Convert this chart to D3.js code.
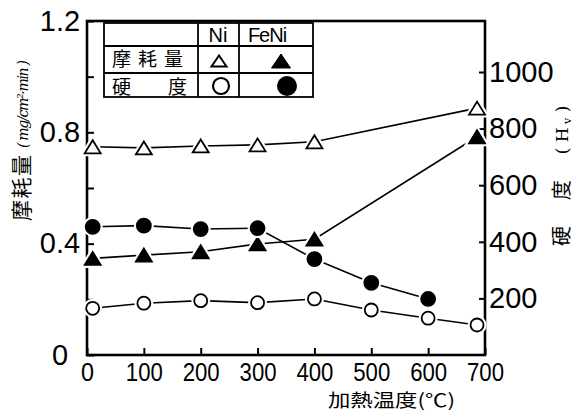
<!DOCTYPE html>
<html><head><meta charset="utf-8">
<script src="https://cdn.jsdelivr.net/npm/d3@7"></script>
<style>
html,body{margin:0;padding:0;background:#fff;}
svg{display:block;}
</style></head>
<body>
<svg id="chart" width="585" height="412"></svg>
<script>
// ---- data ----
const xTicks = [0, 100, 200, 300, 400, 500, 600, 700];
const leftTicks = [0, 0.2, 0.4, 0.6, 0.8, 1.0, 1.2];
const leftLabels = ["0", "", "0.4", "", "0.8", "", "1.2"];
const rightTicks = [200, 400, 600, 800, 1000];

const tempsWear = [10, 100, 200, 300, 400, 686];
const niWear    = [0.748, 0.744, 0.751, 0.755, 0.766, 0.887];
const feniWear  = [0.347, 0.359, 0.371, 0.399, 0.416, 0.784];

const tempsNiHard   = [10, 100, 200, 300, 400, 500, 600, 686];
const niHard        = [165, 183, 192, 185, 198, 159, 130, 106];
const tempsFeNiHard = [10, 100, 200, 300, 400, 500, 600];
const feniHard      = [453, 457, 445, 448, 339, 255, 198];

const legendCols = ["Ni", "FeNi"];
const legendRows = ["摩耗量", "硬　度"];

// ---- layout ----
const svg = d3.select("#chart");
const X0 = 87, X1 = 485, YB = 355, YT = 21;
const x = d3.scaleLinear().domain([0, 700]).range([X0, X1]);
const yL = d3.scaleLinear().domain([0, 1.2]).range([YB, YT]);
const yR = d3.scaleLinear().domain([0, 1000]).range([YB, 72]);

svg.append("rect").attr("width", 585).attr("height", 412).attr("fill", "#fff");

const numFont = "'Liberation Sans', Arial, sans-serif";
const cjkFont = "'Noto Sans CJK JP', 'Noto Sans CJK SC', sans-serif";

// axes
const gx = svg.append("g").attr("transform", `translate(0,${YB})`)
  .call(d3.axisBottom(x).tickValues(xTicks).tickSizeInner(-7).tickSizeOuter(0).tickPadding(8).tickFormat(d3.format("d")));
gx.selectAll("text").attr("font-family", numFont).attr("font-size", 26).attr("fill", "#000")
  .attr("textLength", d => String(d).length === 1 ? 13 : 37).attr("lengthAdjust", "spacingAndGlyphs");

const gl = svg.append("g").attr("transform", `translate(${X0},0)`)
  .call(d3.axisLeft(yL).tickValues(leftTicks).tickSizeInner(-7).tickSizeOuter(0)
    .tickFormat((d, i) => leftLabels[i]));
gl.selectAll("text").attr("font-family", numFont).attr("font-size", 29).attr("fill", "#000")
  .attr("x", -27).attr("text-anchor", "middle");

const gr = svg.append("g").attr("transform", `translate(${X1},0)`)
  .call(d3.axisRight(yR).tickValues(rightTicks).tickSizeInner(-6).tickSizeOuter(0).tickPadding(4).tickFormat(d3.format("d")));
gr.selectAll("text").attr("font-family", numFont).attr("font-size", 29).attr("fill", "#000");

[gx, gl, gr].forEach(g => {
  g.select(".domain").attr("stroke", "none");
  g.selectAll(".tick line").attr("stroke", "#000").attr("stroke-width", 2);
});

// frame
svg.append("rect").attr("x", X0).attr("y", YT).attr("width", X1 - X0).attr("height", YB - YT)
  .attr("fill", "none").attr("stroke", "#000").attr("stroke-width", 2.6);

// axis titles
svg.append("text").attr("transform", "translate(29,188) rotate(-90)")
  .attr("text-anchor", "middle").attr("font-family", cjkFont).attr("font-size", 21).attr("fill", "#000")
  .attr("textLength", 66).attr("lengthAdjust", "spacing").text("摩耗量");
svg.append("text").attr("transform", "translate(28,104) rotate(-90)")
  .attr("text-anchor", "middle").attr("font-family", "'DejaVu Serif', serif").attr("font-style", "italic")
  .attr("font-size", 14).attr("fill", "#000").attr("textLength", 88).attr("lengthAdjust", "spacing").text("( mg/cm²·min )");

svg.append("text").attr("transform", "translate(569,213) rotate(-90)")
  .attr("text-anchor", "middle").attr("font-family", cjkFont).attr("font-size", 20).attr("fill", "#000")
  .attr("textLength", 66).attr("lengthAdjust", "spacing").text("硬 度");
const hv = svg.append("text").attr("transform", "translate(568,130) rotate(-90)")
  .attr("text-anchor", "middle").attr("font-family", "'DejaVu Serif', serif").attr("font-size", 17).attr("fill", "#000");
hv.append("tspan").text("( H");
hv.append("tspan").attr("font-size", 11).attr("dy", 3).text(" v");
hv.append("tspan").attr("dy", -3).text(" )");

svg.append("text").attr("x", 328).attr("y", 406.5)
  .attr("font-family", cjkFont).attr("font-size", 18).attr("fill", "#000")
  .attr("textLength", 127).attr("lengthAdjust", "spacingAndGlyphs").text("加熱温度(℃)");

// marker shapes
function triPath(w, h) {
  return d3.line()([[0, -h / 2], [w / 2, h / 2], [-w / 2, h / 2]]) + "Z";
}
const line = d3.line();

function drawSeries(xs, ys, yScale, kind, filled) {
  const pts = xs.map((t, i) => [x(t), yScale(ys[i])]);
  const g = svg.append("g");
  g.append("path").attr("d", line(pts)).attr("fill", "none").attr("stroke", "#000").attr("stroke-width", 1.6);
  const m = g.selectAll("g.m").data(pts).join("g").attr("transform", d => `translate(${d[0]},${d[1]})`);
  if (kind === "tri") {
    m.append("path").attr("d", triPath(16, 13)).attr("fill", "#fff").attr("stroke", "#fff").attr("stroke-width", 6);
    m.append("path").attr("d", triPath(16, 13)).attr("fill", filled ? "#000" : "#fff")
      .attr("stroke", "#000").attr("stroke-width", 1.8).attr("stroke-linejoin", "miter");
  } else {
    const r = filled ? 7 : 6.5;
    m.append("circle").attr("r", r).attr("fill", "#fff").attr("stroke", "#fff").attr("stroke-width", 6);
    m.append("circle").attr("r", r).attr("fill", filled ? "#000" : "#fff")
      .attr("stroke", "#000").attr("stroke-width", 1.8);
  }
}

drawSeries(tempsWear, niWear, yL, "tri", false);
drawSeries(tempsWear, feniWear, yL, "tri", true);
drawSeries(tempsNiHard, niHard, yR, "circle", false);
drawSeries(tempsFeNiHard, feniHard, yR, "circle", true);

// legend table
const L = svg.append("g");
const lx = [104, 198, 239, 313], ly = [23, 46, 73, 97];
L.append("rect").attr("x", lx[0]).attr("y", ly[0]).attr("width", lx[3] - lx[0]).attr("height", ly[3] - ly[0])
  .attr("fill", "#fff").attr("stroke", "#000").attr("stroke-width", 1.8);
[ly[1], ly[2]].forEach(yy => L.append("line").attr("x1", lx[0]).attr("x2", lx[3]).attr("y1", yy).attr("y2", yy)
  .attr("stroke", "#000").attr("stroke-width", 1.8));
[lx[1], lx[2]].forEach(xx => L.append("line").attr("x1", xx).attr("x2", xx).attr("y1", ly[0]).attr("y2", ly[3])
  .attr("stroke", "#000").attr("stroke-width", 1.8));
L.append("text").attr("x", 218).attr("y", 42).attr("text-anchor", "middle")
  .attr("font-family", numFont).attr("font-size", 20).attr("fill", "#000").text(legendCols[0]);
L.append("text").attr("x", 267).attr("y", 42).attr("text-anchor", "middle")
  .attr("font-family", numFont).attr("font-size", 20).attr("fill", "#000").attr("letter-spacing", -1).text(legendCols[1]);
L.append("text").attr("x", 112).attr("y", 66).attr("font-family", cjkFont).attr("font-size", 19).attr("fill", "#000")
  .attr("textLength", 71).attr("lengthAdjust", "spacing").text(legendRows[0]);
L.append("text").attr("x", 112).attr("y", 94).attr("font-family", cjkFont).attr("font-size", 19).attr("fill", "#000")
  .attr("textLength", 75).attr("lengthAdjust", "spacing").text(legendRows[1]);
L.append("path").attr("transform", "translate(219,61)").attr("d", triPath(15, 11))
  .attr("fill", "#fff").attr("stroke", "#000").attr("stroke-width", 2);
L.append("path").attr("transform", "translate(281,61)").attr("d", triPath(19, 14))
  .attr("fill", "#000").attr("stroke", "#000").attr("stroke-width", 1);
L.append("circle").attr("cx", 221).attr("cy", 86).attr("r", 8)
  .attr("fill", "#fff").attr("stroke", "#000").attr("stroke-width", 2.2);
L.append("circle").attr("cx", 287).attr("cy", 86).attr("r", 10).attr("fill", "#000");
</script>
</body></html>
